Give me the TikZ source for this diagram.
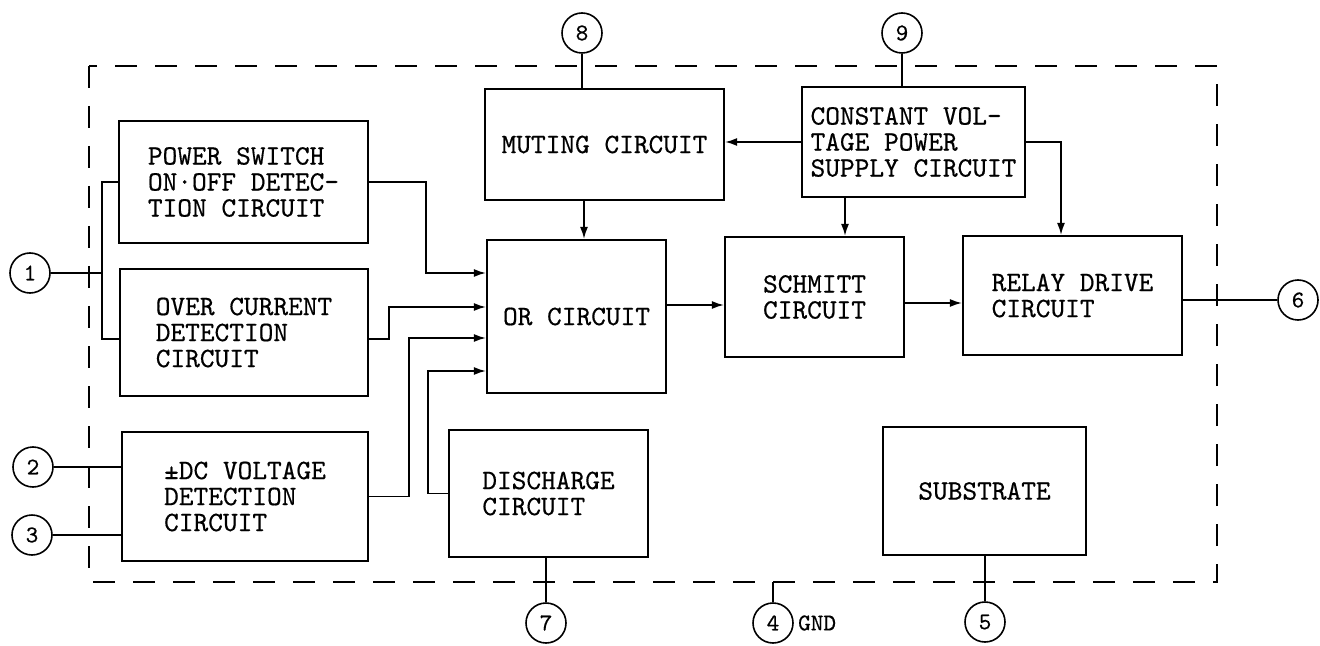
\documentclass[tikz,border=0pt]{standalone}
\usepackage{fontspec}
\newfontfamily\tw{lmmono10-regular.otf}[FakeBold=0.5]
\usetikzlibrary{arrows.meta,positioning}
\tikzset{
  blk/.style={draw, line width=1.1pt, align=left, inner sep=1pt, font=\tw\fontsize{14}{13}\selectfont},
  term/.style={draw, circle, line width=0.8pt, minimum size=20pt, inner sep=0pt, font=\tw\fontsize{12}{12}\selectfont},
  wire/.style={line width=0.8pt},
  sig/.style={wire, -{Latex[length=6pt,width=4pt]}},
}
\begin{document}
\begin{tikzpicture}[x=0.5pt, y=-0.5pt]
   \useasboundingbox (0,0) rectangle (1320,646);
   % package outline
   \draw[line width=1.2pt, dash pattern=on 11pt off 9pt] (89,66) coordinate (fnw) rectangle (1217,582) coordinate (fse);
   % blocks
   \node[blk, minimum width=124.5pt, minimum height=61pt]   (ps)  at (243.5,182)  {POWER SWITCH\\ON·OFF DETEC-\\TION CIRCUIT};
   \node[blk, minimum width=124pt,   minimum height=63.5pt] (oc)  at (244,332.5)  {OVER CURRENT\\DETECTION\\CIRCUIT};
   \node[blk, minimum width=123pt,   minimum height=64.5pt] (dc)  at (245,496.5)  {±DC VOLTAGE\\DETECTION\\CIRCUIT};
   \node[blk, minimum width=119.5pt, minimum height=55.5pt] (mut) at (604.5,144.5) {MUTING CIRCUIT};
   \node[blk, minimum width=111.5pt, minimum height=55pt]   (cv)  at (913.5,142)  {CONSTANT VOL-\\TAGE POWER\\SUPPLY CIRCUIT};
   \node[blk, minimum width=89.5pt,  minimum height=76.5pt] (or)  at (576.5,316.5) {OR CIRCUIT};
   \node[blk, minimum width=89.5pt,  minimum height=60pt]   (sch) at (814.5,297)  {SCHMITT\\CIRCUIT};
   \node[blk, minimum width=109.5pt, minimum height=59.5pt] (rel) at (1072.5,295.5) {RELAY DRIVE\\CIRCUIT};
   \node[blk, minimum width=99.5pt,  minimum height=63.5pt] (dis) at (548.5,493.5) {DISCHARGE\\CIRCUIT};
   \node[blk, minimum width=101.5pt, minimum height=64pt]   (sub) at (984.5,491)  {SUBSTRATE};
   % terminals
   \node[term] (t1) at (30,273)   {1};
   \node[term] (t2) at (33,467)   {2};
   \node[term] (t3) at (32,535)   {3};
   \node[term] (t4) at (773,623)  {4};
   \node[term] (t5) at (985,622)  {5};
   \node[term] (t6) at (1298,300) {6};
   \node[term] (t7) at (546,623)  {7};
   \node[term] (t8) at (582,33)   {8};
   \node[term] (t9) at (902,33)   {9};
   \node[right=1pt of t4, inner sep=1pt, font=\tw\fontsize{12}{12}\selectfont] (gnd) {GND};
   % terminal leads
   \coordinate (j1) at (102,273);
   \draw[wire] (t1) -- (j1);
   \draw[wire] (ps.west) -| (j1) |- ([yshift=-3.25pt]oc.west);
   \draw[wire] (t2) -- (t2 -| dc.west);
   \draw[wire] (t3) -- (t3 -| dc.west);
   \draw[wire] (t8) -- (t8 |- mut.north);
   \draw[wire] (t9) -- (t9 |- cv.north);
   \draw[wire] (t7) -- (t7 |- dis.south);
   \draw[wire] (t5) -- (t5 |- sub.south);
   \draw[wire] (t6) -- (t6 -| rel.east);
   \draw[wire] (t4) -- (t4 |- fse);
   % signal paths
   \draw[sig] (ps.east) -- ++(57,0) |- ([yshift=21.75pt]or.west);
   \draw[sig] ([yshift=-3.25pt]oc.east) -- ++(20,0) |- ([yshift=4.75pt]or.west);
   \draw[sig] (dc.east) -- ++(40,0) |- ([yshift=-10.75pt]or.west);
   \draw[sig] (dis.west) -- ++(-20,0) |- ([yshift=-27.25pt]or.west);
   \draw[sig] ([xshift=-10.25pt]mut.south) -- ([xshift=-10.25pt]mut.south |- or.north);
   \draw[sig] (cv.west) -- (cv.west -| mut.east);
   \draw[sig] ([xshift=-34.25pt]cv.south) -- ([xshift=-34.25pt]cv.south |- sch.north);
   \draw[sig] (cv.east) -| ([xshift=-5.75pt]rel.north);
   \draw[sig] ([yshift=5.75pt]or.east) -- ([yshift=5.75pt]or.east -| sch.west);
   \draw[sig] ([yshift=-3pt]sch.east) -- ([yshift=-3pt]sch.east -| rel.west);
\end{tikzpicture}
\end{document}
